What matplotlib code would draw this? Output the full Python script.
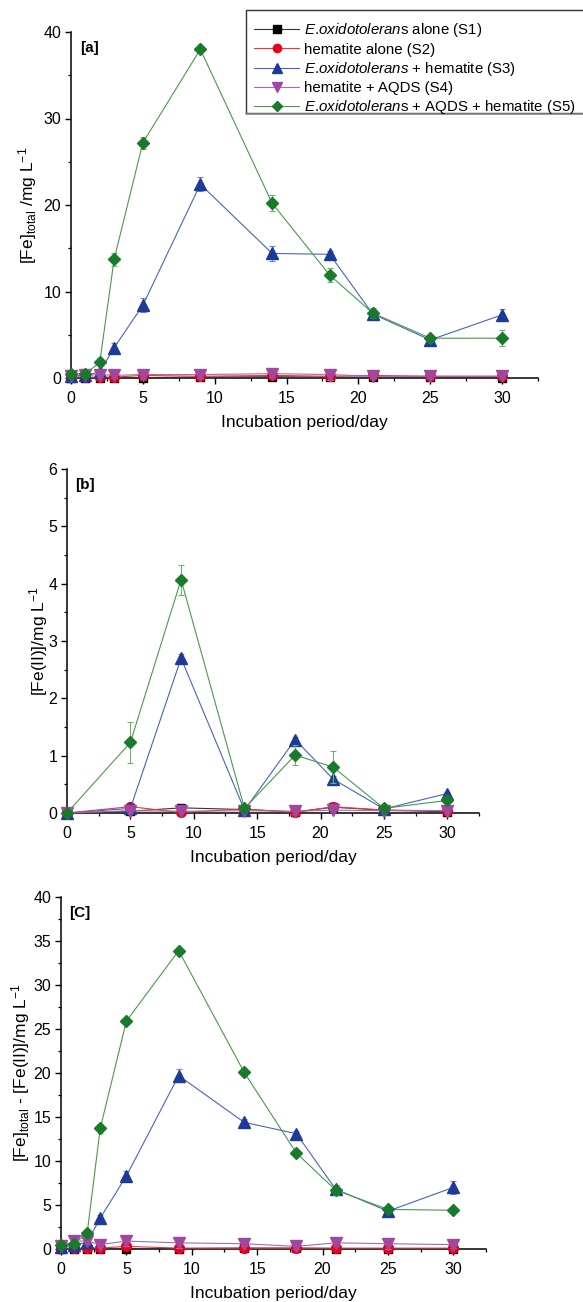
import matplotlib
matplotlib.use("Agg")
import matplotlib.pyplot as plt
from matplotlib.ticker import MultipleLocator
from matplotlib.lines import Line2D
from matplotlib.patches import Rectangle

plt.rcParams['font.family'] = ['Liberation Sans', 'DejaVu Sans']
plt.rcParams['mathtext.fontset'] = 'custom'
plt.rcParams['mathtext.rm'] = 'Liberation Sans'
plt.rcParams['mathtext.it'] = 'Liberation Sans:italic'
plt.rcParams['mathtext.bf'] = 'Liberation Sans:bold'

# ---------------- data ----------------
days_a = [0, 1, 2, 3, 5, 9, 14, 18, 21, 25, 30]
a_s1 = [0.05, 0.05, 0.05, 0.05, 0.05, 0.1, 0.15, 0.1, 0.1, 0.1, 0.05]
a_s2 = [0.1, 0.1, 0.1, 0.1, 0.3, 0.2, 0.3, 0.2, 0.3, 0.2, 0.2]
a_s3 = [0.2, 0.3, 0.7, 3.5, 8.4, 22.4, 14.4, 14.3, 7.4, 4.4, 7.3]
a_s4 = [0.2, 0.3, 0.4, 0.3, 0.4, 0.4, 0.5, 0.4, 0.2, 0.2, 0.2]
a_s5 = [0.5, 0.5, 1.8, 13.7, 27.2, 38.0, 20.2, 11.9, 7.5, 4.6, 4.6]
a_e1 = [0.05, 0.05, 0.05, 0.05, 0.05, 0.05, 0.1, 0.05, 0.05, 0.05, 0.05]
a_e2 = [0.1, 0.1, 0.1, 0.1, 0.5, 0.2, 0.3, 0.2, 0.2, 0.1, 0.1]
a_e3 = [0.1, 0.1, 0.3, 0.5, 0.8, 0.8, 0.9, 0.4, 0.6, 0.4, 0.7]
a_e4 = [0.1, 0.2, 0.3, 0.3, 0.4, 0.4, 0.4, 0.6, 0.2, 0.2, 0.2]
a_e5 = [0.1, 0.1, 0.2, 0.8, 0.7, 0.2, 0.9, 0.8, 0.6, 0.4, 0.9]

days_b = [0, 5, 9, 14, 18, 21, 25, 30]
b_s1 = [0.0, 0.03, 0.09, 0.06, 0.02, 0.10, 0.05, 0.02]
b_s2 = [0.0, 0.11, 0.01, 0.07, 0.01, 0.11, 0.05, 0.04]
b_s3 = [0.0, 0.08, 2.70, 0.05, 1.28, 0.59, 0.07, 0.34]
b_s4 = [0.0, 0.04, 0.03, 0.04, 0.03, 0.05, 0.04, 0.04]
b_s5 = [0.0, 1.23, 4.07, 0.08, 1.01, 0.80, 0.08, 0.22]
b_e1 = [0.0, 0.01, 0.02, 0.01, 0.01, 0.02, 0.01, 0.01]
b_e2 = [0.0, 0.02, 0.01, 0.02, 0.01, 0.02, 0.01, 0.01]
b_e3 = [0.0, 0.03, 0.07, 0.02, 0.05, 0.06, 0.03, 0.03]
b_e4 = [0.0, 0.01, 0.01, 0.01, 0.04, 0.01, 0.01, 0.01]
b_e5 = [0.0, 0.35, 0.26, 0.03, 0.17, 0.28, 0.03, 0.03]

days_c = [0, 1, 2, 3, 5, 9, 14, 18, 21, 25, 30]
c_s1 = [0.05, 0.05, 0.05, 0.05, 0.05, 0.05, 0.1, 0.1, 0.05, 0.05, 0.05]
c_s2 = [0.1, 0.1, 0.1, 0.1, 0.3, 0.1, 0.1, 0.1, 0.1, 0.1, 0.1]
c_s3 = [0.2, 0.4, 0.8, 3.5, 8.3, 19.7, 14.4, 13.1, 6.8, 4.3, 7.0]
c_s4 = [0.3, 0.9, 0.9, 0.5, 0.9, 0.7, 0.6, 0.3, 0.7, 0.6, 0.5]
c_s5 = [0.5, 0.6, 1.8, 13.7, 25.9, 33.9, 20.1, 10.9, 6.7, 4.5, 4.4]
c_e1 = [0.05, 0.05, 0.05, 0.05, 0.05, 0.05, 0.05, 0.05, 0.05, 0.05, 0.05]
c_e2 = [0.1, 0.1, 0.1, 0.1, 0.2, 0.1, 0.1, 0.1, 0.1, 0.1, 0.1]
c_e3 = [0.1, 0.1, 0.3, 0.4, 0.6, 0.7, 0.4, 0.3, 0.5, 0.4, 0.7]
c_e4 = [0.2, 0.3, 0.3, 0.3, 0.6, 0.6, 0.3, 0.3, 0.4, 0.6, 0.4]
c_e5 = [0.1, 0.1, 0.2, 0.5, 0.2, 0.2, 0.4, 0.2, 0.6, 0.3, 0.2]

labels = [r"$\mathit{E.\!oxidotoleran}$s alone (S1)",
          "hematite alone (S2)",
          r"$\mathit{E.\!oxidotolerans}$ + hematite (S3)",
          "hematite + AQDS (S4)",
          r"$\mathit{E.\!oxidotoleran}$s + AQDS + hematite (S5)"]

# ---------------- style ----------------
line_cols = ['#333333', '#e8383a', '#4a62c0', '#b066b0', '#4a9a4a']
mark_cols = ['#000000', '#e8001c', '#1c3a96', '#a0489e', '#187a2a']
err_cols = ['#555555', '#f07070', '#7080d0', '#c080c0', '#70b070']
markers = ['s', 'o', '^', 'v', 'D']
msizes = [6, 7, 8, 8, 6.5]

W, H = 583, 1302
fig = plt.figure(figsize=(W / 100, H / 100), dpi=100)


def px_axes(l, r, t, b):
    return fig.add_axes([l / W, 1 - b / H, (r - l) / W, (b - t) / H])


def panel(ax, days, series, errs, ymax, ymaj, ymin_, ylabel, tag, ylabx, lpad):
    for i, (s, e) in enumerate(zip(series, errs)):
        ax.errorbar(days, s, yerr=e, color=line_cols[i], ecolor=err_cols[i],
                     elinewidth=0.8, capsize=2.5, capthick=0.8, lw=0.8,
                     marker=markers[i], ms=msizes[i], mfc=mark_cols[i],
                     mec=mark_cols[i], zorder=3 + i, clip_on=False)
    ax.set_xlim(0, 32.5)
    ax.set_ylim(0, ymax)
    ax.xaxis.set_major_locator(MultipleLocator(5))
    ax.xaxis.set_minor_locator(MultipleLocator(2.5))
    ax.yaxis.set_major_locator(MultipleLocator(ymaj))
    ax.yaxis.set_minor_locator(MultipleLocator(ymin_))
    for sp in ['top', 'right']:
        ax.spines[sp].set_visible(False)
    for sp in ['left', 'bottom']:
        ax.spines[sp].set_linewidth(1.1)
    ax.tick_params(which='major', direction='out', length=4, width=1.0,
                   labelsize=11.5, pad=3)
    ax.tick_params(axis='x', which='major', pad=5.5)
    ax.tick_params(which='minor', direction='out', length=2.5, width=0.9)
    ax.set_xlabel("Incubation period/day", fontsize=12.5, labelpad=lpad)
    ax.set_ylabel(ylabel, fontsize=12.5)
    ax.yaxis.set_label_coords(ylabx, 0.5)
    ax.text(0.02, 0.975, tag, transform=ax.transAxes, fontsize=11,
            fontweight='bold', va='top', ha='left')


ax1 = px_axes(71, 538, 32, 378)
panel(ax1, days_a, [a_s1, a_s2, a_s3, a_s4, a_s5],
      [a_e1, a_e2, a_e3, a_e4, a_e5], 40, 10, 5,
      r"[Fe]$_{\mathregular{total}}$ /mg L$^{\mathregular{-1}}$", "[a]", -0.069, 6)

ax2 = px_axes(67, 479, 469, 813)
panel(ax2, days_b, [b_s1, b_s2, b_s3, b_s4, b_s5],
      [b_e1, b_e2, b_e3, b_e4, b_e5], 6, 1, 0.5,
      r"[Fe(II)]/mg L$^{\mathregular{-1}}$", "[b]", -0.041, 6)

ax3 = px_axes(61, 486, 897, 1249)
panel(ax3, days_c, [c_s1, c_s2, c_s3, c_s4, c_s5],
      [c_e1, c_e2, c_e3, c_e4, c_e5], 40, 5, 2.5,
      r"[Fe]$_{\mathregular{total}}$ - [Fe(II)]/mg L$^{\mathregular{-1}}$", "[C]", -0.069, 6)

handles = [Line2D([], [], color=line_cols[i], lw=0.8, marker=markers[i],
                  ms=msizes[i] * 0.85, mfc=mark_cols[i], mec=mark_cols[i])
           for i in range(5)]
leg = fig.legend(handles, labels, loc='upper left',
                 bbox_to_anchor=(246 / W, 1 - 13 / H), fontsize=10.8,
                 frameon=False, handlelength=3.0, handletextpad=0.3,
                 labelspacing=0.22, borderpad=0.55, borderaxespad=0)

# legend frame (tighter at the bottom than matplotlib's symmetric padding)
fig.add_artist(Rectangle((246 / W, 1 - 113 / H), (600 - 246) / W, 103 / H,
                         transform=fig.transFigure, fill=False,
                         ec='#333333', lw=1.0))
fig.add_artist(Line2D([246 / W, 1.0], [1 - 114 / H, 1 - 114 / H],
                      transform=fig.transFigure, color='#888888', lw=1.2))

fig.savefig("out.png", dpi=100)
